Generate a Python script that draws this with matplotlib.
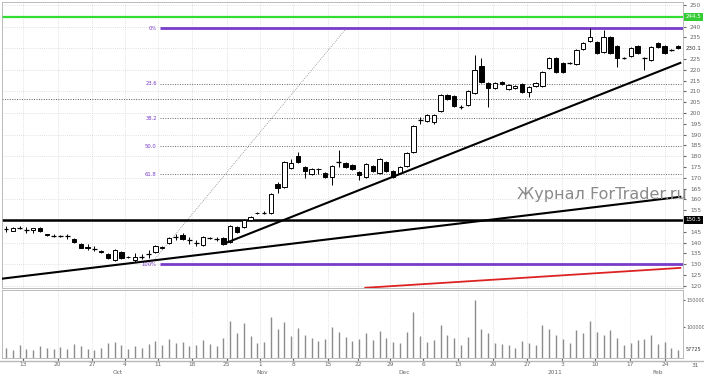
import matplotlib
matplotlib.use('Agg')
import matplotlib.pyplot as plt
import matplotlib.transforms as mtransforms
from matplotlib.lines import Line2D

# daily OHLC
opens = [146.5, 145.6, 146.8, 145.9, 145.9, 146.8, 143.8, 143.3, 143.2, 143.1,
         141.8, 139.4, 137.8, 137.2, 136.3, 134.8, 132.0, 135.7, 133.5, 132.0,
         133.4, 134.6, 135.7, 137.6, 139.9, 142.6, 143.6, 141.3, 140.0, 139.0,
         142.3, 141.8, 142.2, 140.4, 147.3, 147.3, 150.5, 153.6, 153.7, 153.8,
         167.2, 165.8, 174.6, 180.1, 175.1, 171.8, 174.3, 172.3, 170.4, 177.4,
         176.9, 176.0, 172.7, 170.4, 175.5, 172.3, 177.4, 173.2, 172.3, 175.5,
         182.0, 196.6, 196.3, 195.9, 200.9, 208.3, 207.9, 202.9, 203.7, 209.3,
         221.8, 213.9, 211.6, 214.4, 211.1, 211.6, 213.4, 209.7, 212.5, 212.5,
         220.8, 225.5, 223.2, 223.2, 222.7, 229.6, 233.3, 232.9, 228.2, 235.2,
         231.0, 225.5, 226.4, 231.0, 225.5, 224.6, 232.4, 231.0, 229.2, 231.0]
closes = [146.3, 146.9, 146.9, 145.8, 146.8, 145.4, 143.5, 143.1, 143.0, 143.0,
          140.2, 137.6, 137.5, 137.0, 135.7, 133.0, 136.6, 133.0, 133.2, 133.4,
          133.5, 134.8, 138.5, 138.2, 142.2, 142.7, 141.7, 141.1, 139.9, 142.7,
          142.1, 141.6, 139.4, 147.7, 145.0, 150.5, 151.9, 153.9, 153.9, 162.6,
          165.3, 177.4, 176.9, 177.4, 173.2, 174.1, 174.0, 170.4, 175.5, 177.2,
          175.0, 174.1, 171.3, 176.4, 173.2, 178.7, 173.2, 170.4, 175.0, 181.5,
          194.0, 196.8, 199.1, 199.1, 208.3, 206.5, 203.3, 202.8, 210.2, 219.9,
          214.4, 211.6, 213.9, 213.4, 212.9, 212.5, 209.7, 212.0, 213.9, 219.0,
          225.5, 219.0, 219.0, 223.0, 229.2, 232.4, 235.2, 227.8, 235.2, 227.8,
          225.5, 225.4, 230.1, 227.8, 225.4, 230.6, 230.6, 227.8, 229.1, 230.1]
highs = [147.8, 147.3, 147.7, 147.3, 146.9, 147.2, 144.2, 143.8, 143.6, 144.1,
         142.2, 139.9, 139.2, 138.6, 136.8, 135.3, 137.0, 136.3, 134.0, 135.2,
         134.8, 136.6, 139.0, 138.6, 142.6, 144.0, 144.4, 142.7, 141.3, 143.2,
         142.7, 142.7, 142.6, 148.2, 147.8, 150.9, 152.4, 154.4, 154.6, 163.0,
         168.1, 178.0, 178.7, 182.0, 175.6, 174.6, 174.7, 172.8, 176.0, 182.9,
         177.4, 176.5, 173.2, 176.9, 176.0, 179.2, 177.9, 173.7, 175.5, 182.0,
         194.5, 198.0, 199.6, 199.6, 208.8, 208.8, 208.3, 203.5, 210.6, 226.8,
         225.5, 214.4, 214.4, 214.8, 213.4, 213.0, 213.9, 212.5, 214.4, 219.5,
         226.0, 226.0, 223.6, 223.7, 229.7, 232.9, 239.3, 233.4, 238.4, 235.7,
         231.5, 226.0, 230.6, 231.5, 226.0, 231.0, 232.9, 231.5, 229.7, 231.5]
lows = [145.0, 145.2, 146.5, 144.5, 144.5, 145.0, 143.0, 142.6, 142.7, 141.7,
        139.9, 137.3, 136.4, 136.0, 135.2, 132.6, 131.5, 132.5, 132.7, 131.1,
        132.3, 133.0, 135.2, 137.2, 139.5, 141.3, 141.3, 139.5, 138.5, 138.5,
        141.7, 140.8, 139.0, 140.0, 144.6, 146.9, 150.1, 153.2, 153.3, 153.4,
        163.0, 165.3, 174.2, 176.9, 170.0, 171.4, 171.8, 170.0, 166.7, 175.0,
        174.6, 173.7, 169.0, 170.0, 172.8, 171.8, 172.8, 170.0, 171.8, 175.0,
        181.5, 195.0, 195.8, 194.9, 200.4, 206.0, 202.9, 202.0, 203.3, 208.8,
        213.9, 202.8, 211.1, 212.9, 210.6, 211.1, 209.3, 207.4, 212.0, 212.0,
        220.3, 218.5, 218.5, 222.5, 222.2, 229.1, 232.8, 227.3, 227.8, 227.3,
        221.3, 224.8, 225.9, 227.3, 219.9, 224.1, 230.1, 227.3, 228.7, 229.6]
volumes = [62000, 58000, 66000, 60000, 57000, 64000, 61000, 59000, 63000, 60000,
           68000, 65000, 60000, 58000, 62000, 70000, 72000, 66000, 60000, 64000,
           62000, 68000, 74000, 66000, 78000, 70000, 72000, 64000, 66000, 76000,
           68000, 65000, 80000, 112000, 88000, 108000, 84000, 70000, 72000, 118000,
           96000, 110000, 84000, 98000, 86000, 80000, 74000, 78000, 100000, 90000,
           82000, 74000, 78000, 88000, 76000, 92000, 80000, 72000, 70000, 90000,
           128000, 84000, 72000, 76000, 104000, 86000, 80000, 66000, 82000, 150000,
           96000, 88000, 70000, 68000, 66000, 62000, 74000, 70000, 66000, 104000,
           96000, 86000, 78000, 70000, 94000, 88000, 112000, 90000, 86000, 94000,
           80000, 66000, 70000, 76000, 78000, 86000, 68000, 72000, 62000, 57725]

# date axis
week_pos = [2.5, 7.6, 12.7, 17.5, 22.4, 27.4, 32.5, 37.4, 42.3, 47.4, 51.9,
            56.6, 61.4, 66.6, 71.7, 76.7, 81.9, 86.7, 91.9, 97.1]
week_labels = ['13', '20', '27', '4', '11', '18', '25', '1', '8', '15', '22',
               '29', '6', '13', '20', '27', '3', '10', '17', '24']
month_pos = [16.5, 37.7, 58.6, 80.9, 95.9]
month_labels = ['Oct', 'Nov', 'Dec', '2011', 'Feb']

# fibonacci grid
fib_high = 239.3
fib_low = 130.0
fib_ratios = [0.0, 23.6, 38.2, 50.0, 61.8, 100.0]
fib_labels = ['0%', '23.6', '38.2', '50.0', '61.8', '100%']

green_level = 244.5
black_level = 150.5

n = len(opens)
idx = list(range(n))

fig = plt.figure(figsize=(7.04, 3.77), dpi=100)
ax = fig.add_axes([2 / 704, 1 - 288 / 377, 681 / 704, 286 / 377])
ax2 = fig.add_axes([2 / 704, 1 - 358 / 377, 681 / 704, 68 / 377], sharex=ax)

ax.set_xlim(-0.6, 99.7)
ax.set_ylim(119.0, 251.4)

# grid
for p in range(120, 251, 10):
    ax.axhline(p, color='#c8c8c8', lw=0.5, ls=(0, (1, 2)), zorder=0)
for x in week_pos:
    ax.axvline(x, color='#c8c8c8', lw=0.5, ls=(0, (1, 2)), zorder=0)
    ax2.axvline(x, color='#c8c8c8', lw=0.5, ls=(0, (1, 2)), zorder=0)
ax.axhline(206.5, color='#555555', lw=0.7, ls=(0, (1, 1.5)), zorder=1)

# horizontal levels
ax.axhline(green_level, color='#33dd33', lw=1.6, zorder=2)
ax.axhline(black_level, color='black', lw=1.8, zorder=2)

rng = fib_high - fib_low
for r, lab in zip(fib_ratios, fib_labels):
    lev = fib_high - r / 100 * rng
    if r in (0.0, 100.0):
        ax.hlines(lev, 22.7, 99.7, color='#7a3cc8', lw=2.0, zorder=2)
    else:
        ax.hlines(lev, 22.7, 99.7, color='#666666', lw=0.7, ls=(0, (1, 1.5)), zorder=1)
    ax.text(22.2, lev, lab, color='#7a3cc8', fontsize=3.8, ha='right', va='center')

# trend lines
ax.plot([-0.9, 99.3], [123.2, 161.2], color='black', lw=1.5, zorder=5)
ax.plot([32.0, 99.3], [139.4, 223.2], color='black', lw=1.5, zorder=5)
ax.plot([52.9, 99.3], [119.1, 128.3], color='#dd2222', lw=1.3, zorder=5)
ax.plot([21.2, 49.9], [129.7, 238.4], color='#888888', lw=0.6, ls=(0, (1, 1.5)), zorder=1)

# candles
ax.vlines(idx, lows, highs, color='black', lw=0.7, zorder=3)
for i in idx:
    o, c = opens[i], closes[i]
    if abs(c - o) < 0.3:
        ax.hlines(c, i - 0.35, i + 0.35, color='black', lw=0.9, zorder=4)
    else:
        ax.bar(i, abs(c - o), 0.64, min(o, c), facecolor='white' if c > o else 'black',
               edgecolor='black', lw=0.7, zorder=4)

# price scale, the boxed levels take the place of 245, 230 and 150
ax.yaxis.tick_right()
ax.set_yticks([p for p in range(120, 251, 5) if p not in (245, 230, 150)])
ax.tick_params(axis='y', length=2, pad=3, labelsize=4.2, colors='#666666')
ax.tick_params(axis='x', bottom=False, labelbottom=False)
for s in ax.spines.values():
    s.set_color('#b0b0b0')
    s.set_linewidth(0.6)

# right-hand value boxes
ytr = mtransforms.blended_transform_factory(ax.transAxes, ax.transData)
box_kw = dict(transform=ytr, fontsize=4.0, va='center', ha='left')
ax.text(1.004, green_level, f'{green_level:.1f}', color='white',
        bbox=dict(boxstyle='square,pad=0.25', fc='#33cc33', ec='none'), **box_kw)
ax.text(1.004, black_level, f'{black_level:.1f}', color='white',
        bbox=dict(boxstyle='square,pad=0.25', fc='black', ec='none'), **box_kw)
ax.text(1.004, closes[-1], f'{closes[-1]:.1f}', color='#333333',
        bbox=dict(boxstyle='square,pad=0.25', fc='white', ec='none'), **box_kw)

# volume
ax2.vlines(idx, 0, volumes, color='#8c8c8c', lw=1.0, zorder=3)
ax2.set_ylim(42600, 168500)
ax2.yaxis.tick_right()
ax2.set_yticks([100000, 150000])
ax2.set_yticklabels(['100000', '150000'])
ax2.tick_params(axis='y', length=1.5, pad=1.2, labelsize=3.5, colors='#666666')
vtr = mtransforms.blended_transform_factory(ax2.transAxes, ax2.transData)
ax2.text(1.004, volumes[-1], str(volumes[-1]), transform=vtr, fontsize=3.5, color='#333333',
         va='center', ha='left', bbox=dict(boxstyle='square,pad=0.2', fc='white', ec='none'))
for s in ax2.spines.values():
    s.set_color('#b0b0b0')
    s.set_linewidth(0.6)

ax2.set_xticks(week_pos)
ax2.set_xticklabels(week_labels)
ax2.tick_params(axis='x', length=2, pad=1.2, labelsize=4.2, colors='#666666')
xtr = mtransforms.blended_transform_factory(ax2.transData, ax2.transAxes)
for x, lab in zip(month_pos, month_labels):
    ax2.text(x, -0.21, lab, transform=xtr, fontsize=4.2, color='#666666', ha='center',
             va='center', clip_on=False)
ax2.text(101.5, -0.11, '31', transform=xtr, fontsize=4.2, color='#666666', ha='center',
         va='center', clip_on=False)

fig.add_artist(Line2D([0, 1], [1 - 360.5 / 377, 1 - 360.5 / 377], color='#b8b8b8', lw=1.0))

fig.text(602 / 704, 1 - 195 / 377, 'Журнал ForTrader.ru', fontsize=11.5, color='#8a8a8a',
         ha='center', va='center')

fig.savefig('out.png', dpi=100)
